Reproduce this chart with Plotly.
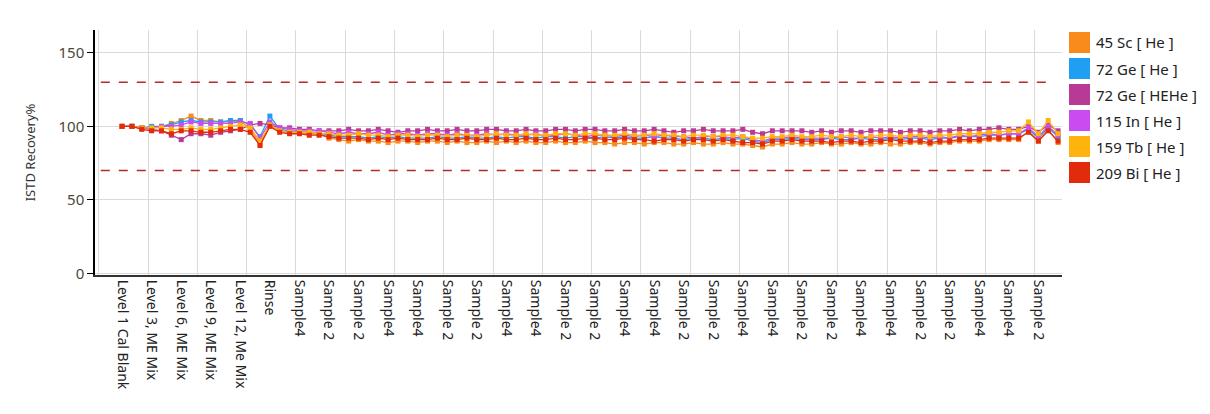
import plotly.graph_objects as go

# x tick labels, one every 3 runs
tick_labels = ["Level 1 Cal Blank", "Level 3, ME Mix", "Level 6, ME Mix", "Level 9, ME Mix",
               "Level 12, Me Mix", "Rinse",
               "Sample4", "Sample 2", "Sample 2", "Sample4", "Sample4", "Sample 2", "Sample 2",
               "Sample4", "Sample4", "Sample 2", "Sample 2", "Sample4", "Sample4", "Sample 2",
               "Sample 2", "Sample4", "Sample4", "Sample 2", "Sample 2", "Sample4", "Sample4",
               "Sample 2", "Sample 2", "Sample4", "Sample4", "Sample 2"]

series_names = ["45 Sc [ He ]", "72 Ge [ He ]", "72 Ge [ HEHe ]", "115 In [ He ]",
                "159 Tb [ He ]", "209 Bi [ He ]"]
series_colors = ["#F98A1C", "#1E9FF2", "#B93A96", "#C84CF0", "#FFB30F", "#E22A0C"]

# ISTD recovery % per run (96 runs)
sc45 = [100, 100, 99, 99, 100, 102, 104, 107, 104, 104, 103, 103, 104, 98, 88, 101, 97, 96, 96, 95, 95,
        92, 91, 90, 91, 90, 90, 89, 90, 90, 89,
        90, 90, 89, 90, 89, 89, 90, 89, 90, 89,
        90, 89, 89, 90, 89, 89, 90, 89, 89, 88,
        89, 89, 88, 89, 89, 88, 88, 89, 88, 88,
        89, 88, 88, 87, 86, 88, 88, 89, 88, 88,
        89, 88, 88, 89, 88, 88, 89, 88, 88, 89,
        89, 88, 89, 89, 90, 90, 90, 91, 91, 91,
        91, 97, 90, 98, 89]
ge72 = [100, 100, 99, 100, 100, 101, 103, 104, 103, 103, 103, 104, 104, 101, 93, 107, 98, 97, 96, 96, 95,
        94, 93, 93, 93, 92, 93, 92, 93, 92, 92,
        92, 93, 92, 92, 93, 92, 92, 93, 92, 93,
        93, 92, 93, 93, 92, 93, 93, 92, 93, 92,
        93, 92, 92, 93, 92, 92, 91, 92, 92, 91,
        92, 91, 92, 90, 89, 91, 91, 92, 91, 91,
        91, 92, 91, 91, 92, 91, 91, 92, 91, 92,
        92, 91, 92, 92, 93, 93, 93, 94, 94, 95,
        95, 98, 92, 99, 93]
ge72_hehe = [100, 100, 99, 98, 97, 94, 91, 95, 95, 94, 96, 97, 98, 101, 102, 101, 99, 99, 98, 98, 97,
             97, 97, 98, 97, 97, 98, 97, 96, 97, 97,
             98, 97, 97, 98, 97, 97, 98, 98, 97, 97,
             98, 97, 97, 98, 98, 97, 98, 98, 97, 97,
             98, 97, 97, 98, 97, 96, 97, 97, 98, 97,
             97, 97, 98, 96, 95, 97, 97, 97, 97, 96,
             97, 96, 97, 97, 96, 97, 97, 97, 96, 97,
             97, 96, 97, 97, 98, 97, 98, 98, 99, 98,
             98, 100, 96, 101, 97]
in115 = [100, 100, 99, 99, 100, 100, 101, 103, 102, 102, 102, 102, 103, 102, 92, 103, 99, 98, 97, 97, 97,
         96, 95, 96, 95, 95, 96, 94, 95, 95, 94,
         95, 95, 94, 95, 94, 94, 95, 94, 95, 94,
         94, 95, 93, 94, 95, 94, 93, 94, 94, 93,
         94, 93, 94, 93, 94, 93, 93, 92, 93, 93,
         93, 92, 93, 91, 90, 92, 92, 93, 92, 92,
         92, 92, 93, 92, 92, 93, 92, 93, 92, 93,
         93, 92, 93, 92, 94, 93, 94, 95, 94, 95,
         95, 99, 93, 100, 94]
tb159 = [100, 100, 99, 99, 99, 98, 98, 99, 98, 98, 99, 100, 101, 99, 90, 101, 97, 96, 96, 96, 95,
         95, 94, 94, 95, 94, 94, 93, 94, 94, 93,
         94, 94, 93, 94, 94, 93, 94, 95, 94, 94,
         95, 94, 94, 95, 95, 94, 95, 95, 94, 94,
         95, 94, 94, 95, 94, 94, 93, 94, 94, 93,
         94, 94, 93, 92, 92, 93, 93, 94, 93, 93,
         94, 93, 93, 94, 93, 93, 94, 94, 93, 94,
         94, 93, 94, 94, 95, 95, 95, 96, 96, 97,
         97, 103, 95, 104, 95]
bi209 = [100, 100, 98, 97, 97, 95, 97, 97, 96, 96, 97, 98, 98, 96, 87, 100, 96, 95, 95, 94, 94,
         93, 92, 92, 92, 91, 92, 91, 92, 91, 91,
         91, 92, 91, 91, 92, 91, 91, 92, 91, 91,
         92, 91, 91, 92, 91, 91, 92, 92, 91, 91,
         92, 91, 91, 90, 91, 91, 90, 91, 91, 90,
         91, 90, 89, 89, 88, 90, 90, 91, 90, 90,
         90, 89, 90, 90, 89, 90, 90, 91, 90, 90,
         90, 89, 90, 90, 91, 91, 91, 92, 92, 92,
         92, 96, 90, 97, 90]

all_series = [sc45, ge72, ge72_hehe, in115, tb159, bi209]
runs = list(range(len(sc45)))

upper_limit = 130
lower_limit = 70

fig = go.Figure()
for name, color, vals in zip(series_names, series_colors, all_series):
    fig.add_trace(go.Scatter(x=runs, y=vals, name=name, mode="lines+markers",
                             line=dict(color=color, width=1.3),
                             marker=dict(color=color, size=5, symbol="square"),
                             showlegend=False))

# second x axis only for the vertical grid (it is offset from the labels)
fig.add_trace(go.Scatter(x=[runs[0]], y=[None], xaxis="x2", showlegend=False, hoverinfo="skip"))

for lim in [upper_limit, lower_limit]:
    fig.add_shape(type="line", xref="paper", yref="y", x0=0.006, x1=0.992, y0=lim, y1=lim,
                  line=dict(color="#B52A2A", width=1.5, dash="dash"))

# page has an 8px body margin; positions below are in screen pixels
off = 8
plot_l, plot_r, plot_t, plot_b = 95, 1062, 30, 275
pw = plot_r - plot_l
ph = plot_b - plot_t
# hand-made legend with large squares
for k, (name, color) in enumerate(zip(series_names, series_colors)):
    top = 32 + 26 * k
    fig.add_shape(type="rect", xref="paper", yref="paper",
                  x0=(1069 - plot_l) / pw, x1=(1090 - plot_l) / pw,
                  y0=(plot_b - top) / ph, y1=(plot_b - top - 21) / ph,
                  fillcolor=color, line=dict(width=0))
    fig.add_annotation(xref="paper", yref="paper", x=(1094 - plot_l) / pw,
                       y=(plot_b - top - 10.5) / ph, text=name, showarrow=False,
                       xanchor="left", yanchor="middle",
                       font=dict(size=15, color="#222222"))

fig.update_layout(
    width=1210, height=414,
    margin=dict(l=plot_l - off, r=1210 + off - plot_r, t=plot_t - off, b=414 + off - plot_b),
    plot_bgcolor="white", paper_bgcolor="white",
    font=dict(family="Noto Sans, DejaVu Sans, sans-serif", size=12, color="#333333"),
    xaxis=dict(range=[-2.75, 95.4], tickmode="array",
               tickvals=[3 * i for i in range(len(tick_labels))], ticktext=tick_labels,
               tickangle=90, showgrid=False, zeroline=False,
               showline=True, linecolor="#333333", linewidth=2,
               ticks="", tickfont=dict(size=14, color="#222222")),
    xaxis2=dict(range=[-2.75, 95.4], overlaying="x", side="bottom",
                tick0=-2.35, dtick=5, showgrid=True, gridcolor="#DADADA", gridwidth=1,
                showticklabels=False, ticks="", zeroline=False, showline=False),
    yaxis=dict(range=[-1, 165.5], tickvals=[0, 50, 100, 150], showgrid=True,
               gridcolor="#DADADA", zeroline=False, showline=True, linecolor="#000000",
               linewidth=1.5, ticks="outside", ticklen=6, tickcolor="#000000",
               tickfont=dict(size=15, color="#4A4A3A"),
               title=dict(text="ISTD Recovery%", font=dict(size=13, color="#333333"), standoff=20)),
)

fig.write_html("out.html")
